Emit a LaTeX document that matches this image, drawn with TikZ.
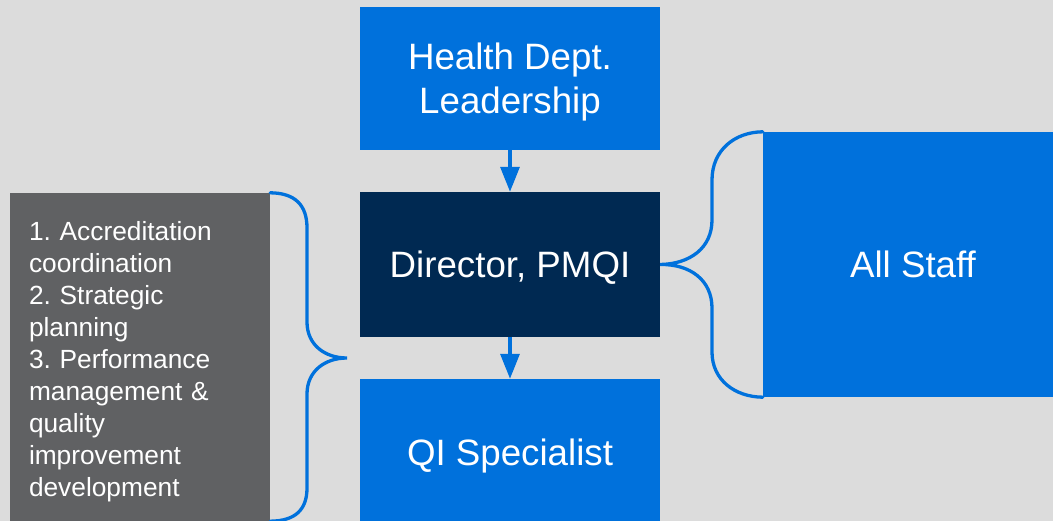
\documentclass[tikz,border=0pt]{standalone}
\usepackage{fontspec}
\setmainfont{Liberation Sans}
\frenchspacing
\usetikzlibrary{arrows.meta}
\definecolor{back-color}{RGB}{220,220,220}
\definecolor{box-color}{RGB}{0,113,220}
\definecolor{dark-color}{RGB}{0,41,82}
\definecolor{panel-color}{RGB}{96,97,99}

\begin{document}
\begin{tikzpicture}[x=1pt,y=-1pt,
	    block/.style={fill=box-color,text=white,inner sep=0pt,text depth=0pt,
	      minimum width=300pt,align=center,font=\fontsize{36.7}{44}\selectfont},
	    link/.style={draw=box-color,line width=3.3pt,
	      -{Triangle[length=25pt,width=19pt]}},
	    brace/.style={draw=box-color,line width=3.3pt,line cap=round}]
	    \useasboundingbox (0,0) rectangle (1053,521);
	    \fill[back-color] (0,0) rectangle (1053,521);
	
	    \node[block,minimum height=143pt] (lead) at (510,78.5) {Health Dept.\\Leadership};
	    \node[block,fill=dark-color,minimum height=145pt] (dir) at (510,264.5) {Director, PMQI};
	    \node[block,minimum height=146pt] (qi) at (510,452) {QI Specialist};
	    \node[block,minimum height=265pt] (staff) at (913,264.5) {All Staff};
	    \node[fill=panel-color,text=white,minimum width=260pt,minimum height=328pt,
	      text width=222pt,inner xsep=19pt,text height=29pt,align=left,
	      font=\fontsize{26.3}{32}\selectfont] (tasks) at (140,357)
	      {1. Accreditation\\coordination\\2. Strategic\\planning\\3. Performance\\management \&\\quality\\improvement\\development};
	
	    \draw[link] (lead.south) -- (dir.north);
	    \draw[link] (dir.south) -- (qi.north);
	
	    % braces
	    \draw[brace] (tasks.north east) .. controls (295,193) and (307,205) .. (307,228)
	      -- (307,322) .. controls (307,345) and (325,358) .. (347,358)
	      .. controls (325,358) and (307,371) .. (307,394)
	      -- (307,488) .. controls (307,510) and (295,521) .. (tasks.south east);
	    \draw[brace] (staff.north west) .. controls (735,132) and (712,150) .. (712,180)
	      -- (712,220) .. controls (712,248) and (690,264) .. (dir.east)
	      .. controls (690,264) and (712,280) .. (712,308)
	      -- (712,352) .. controls (712,380) and (735,397) .. (staff.south west);
	\end{tikzpicture}
\end{document}
